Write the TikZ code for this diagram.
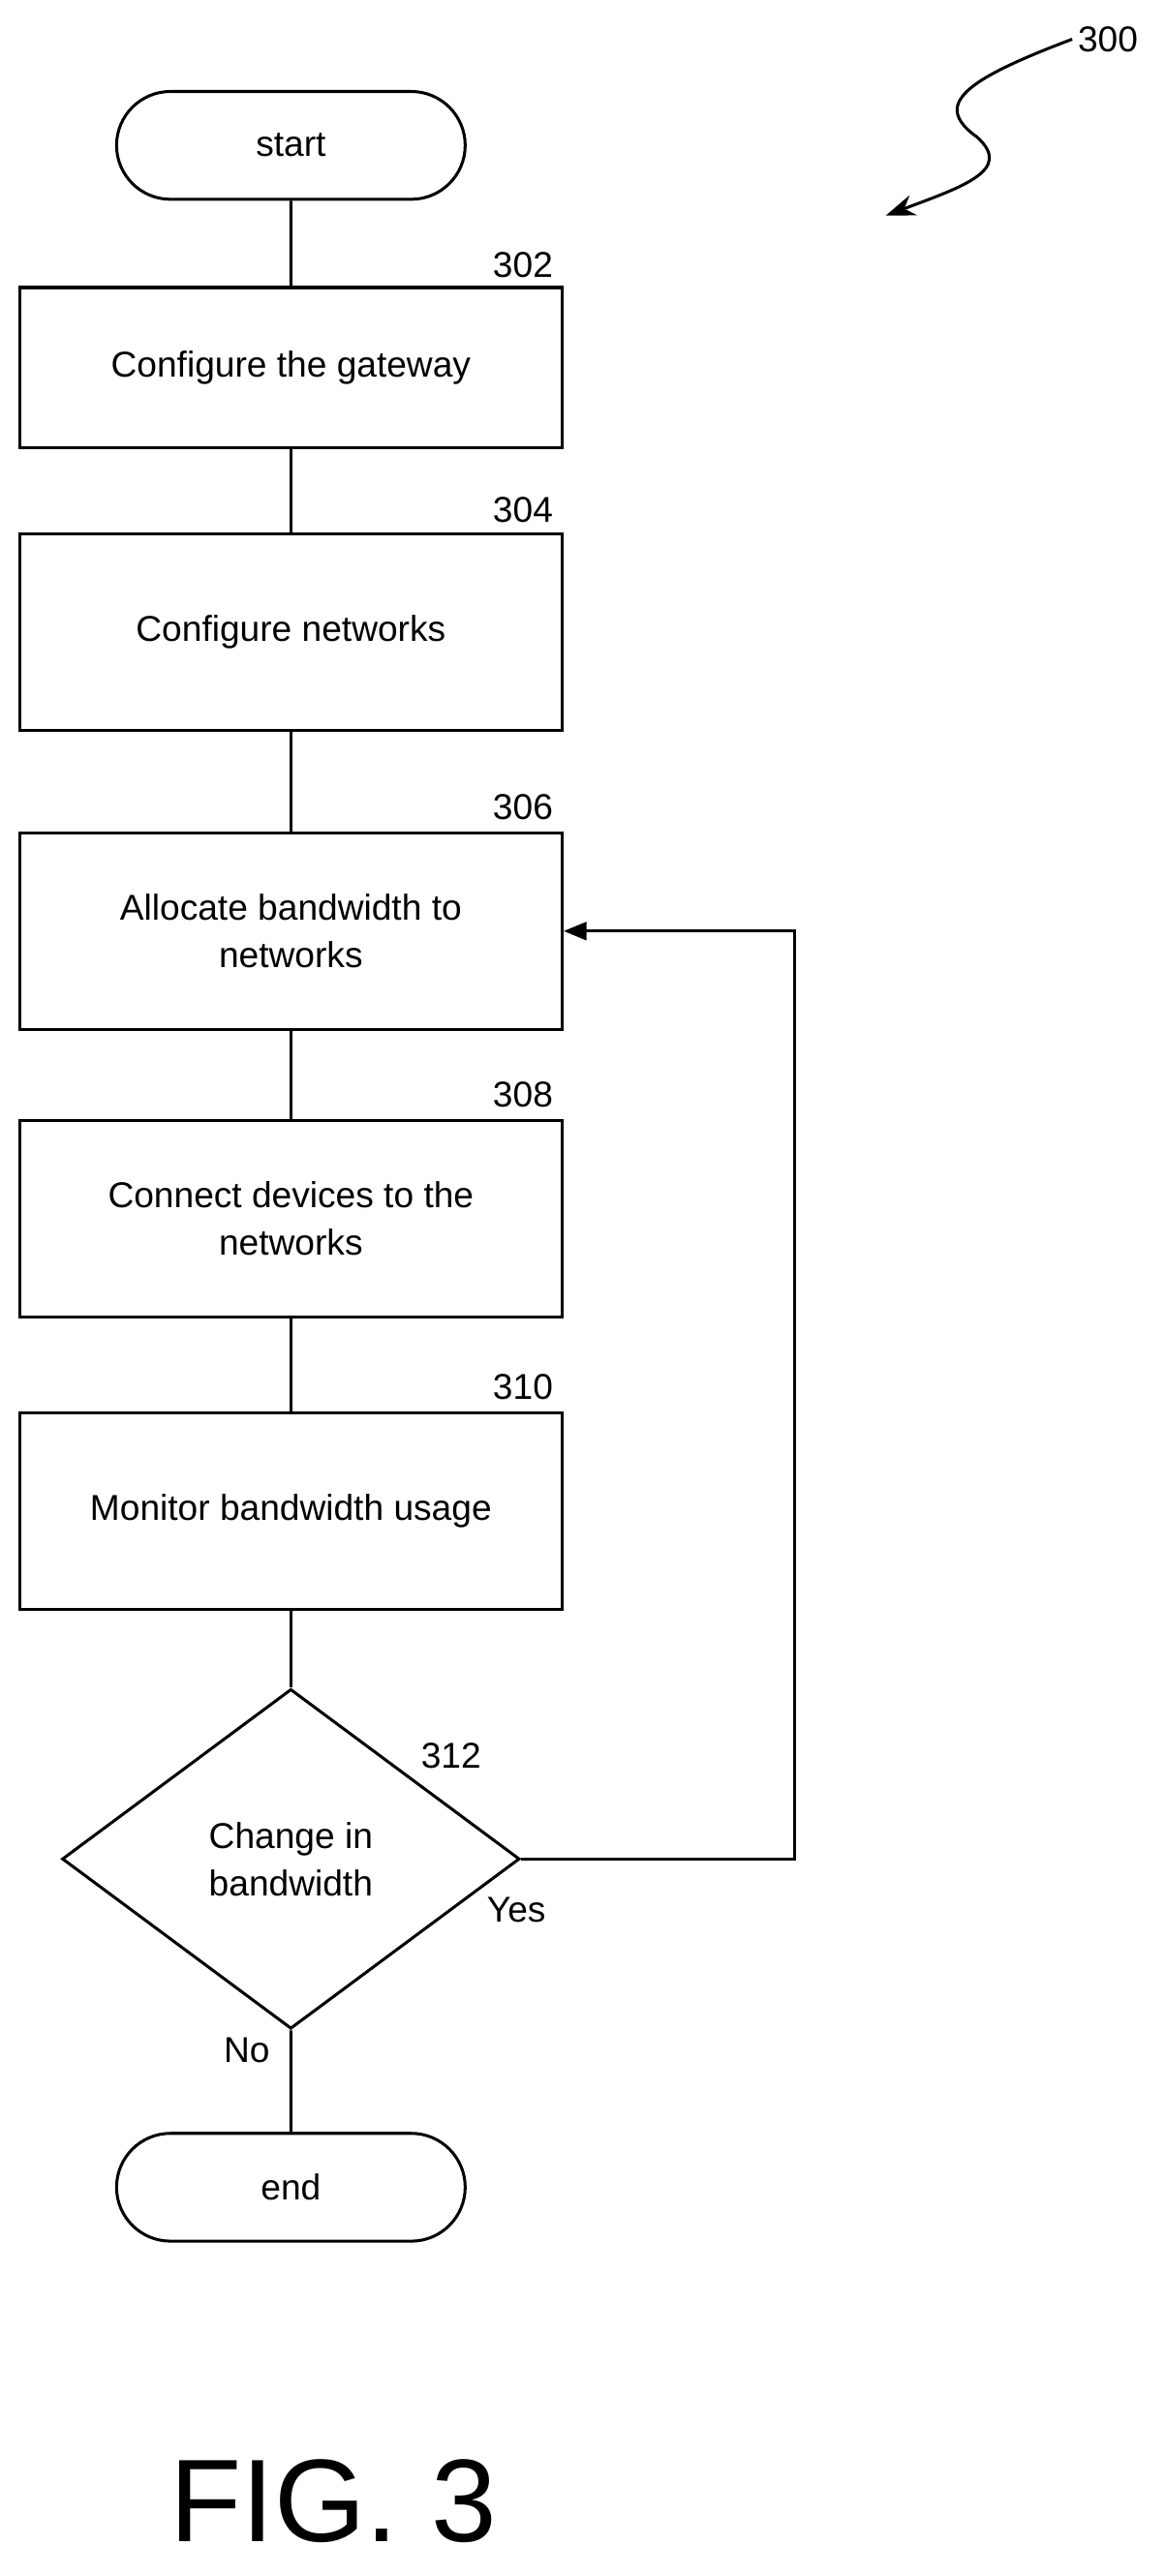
\documentclass[tikz,border=0pt]{standalone}
\usepackage{fontspec}
\setmainfont{Liberation Sans}
\usetikzlibrary{shapes.geometric,shapes.misc,arrows.meta}
\tikzset{
  procbox/.style={draw,line width=1.8pt,minimum width=332pt,align=center,font=\fontsize{22}{29}\selectfont},
  term/.style={draw,line width=1.8pt,rounded rectangle,minimum width=220pt,minimum height=66pt,font=\fontsize{22}{26}\selectfont},
  ref/.style={font=\fontsize{22}{26}\selectfont},
  line/.style={line width=1.8pt}
}
\begin{document}
\begin{tikzpicture}[x=1pt,y=-1pt]
\useasboundingbox (0,0) rectangle (713,1577);
\begin{scope}[yshift=-4pt]
\node[term] (start) at (178,85) {start};
\node[procbox,minimum height=98pt] (s302) at (178,221) {Configure the gateway};
\node[procbox,minimum height=120pt] (s304) at (178,383) {Configure networks};
\node[procbox,minimum height=120pt] (s306) at (178,566) {Allocate bandwidth to\\networks};
\node[procbox,minimum height=120pt] (s308) at (178,742) {Connect devices to the\\networks};
\node[procbox,minimum height=120pt] (s310) at (178,921) {Monitor bandwidth usage};
\node[draw,line width=1.8pt,diamond,minimum width=280pt,minimum height=208pt,inner sep=0pt,align=center,font=\fontsize{22}{29}\selectfont] (s312) at (178,1134) {Change in\\bandwidth};
\node[term] (end) at (178,1335) {end};
% step numbers
\node[ref] (n302) at (320,158) {302};
\node[ref] (n304) at (320,308) {304};
\node[ref] (n306) at (320,490) {306};
\node[ref] (n308) at (320,666) {308};
\node[ref] (n310) at (320,845) {310};
\node[ref] (n312) at (276,1071) {312};
\node[ref] (yes) at (316,1165) {Yes};
\node[ref] (no) at (151,1251) {No};
\node[ref] (n300) at (678,20) {300};
\node[font=\fontsize{72}{76}\selectfont] (fig) at (204,1527) {FIG. 3};
% connectors
\draw[line] (start) -- (s302);
\draw[line] (s302) -- (s304);
\draw[line] (s304) -- (s306);
\draw[line] (s306) -- (s308);
\draw[line] (s308) -- (s310);
\draw[line] (s310) -- (s312);
\draw[line] (s312) -- (end);
\coordinate (loop) at (486,1134);
\draw[line,-{Triangle[length=14pt,width=11pt]}] (s312.east) -- (loop) |- (s306.east);
\draw[line,-{Stealth[length=18pt,width=13pt]}] (n300.west) .. controls (590,45) and (570,60) .. (598,80) .. controls (620,100) and (590,110) .. (542,128);
\end{scope}
\end{tikzpicture}
\end{document}
